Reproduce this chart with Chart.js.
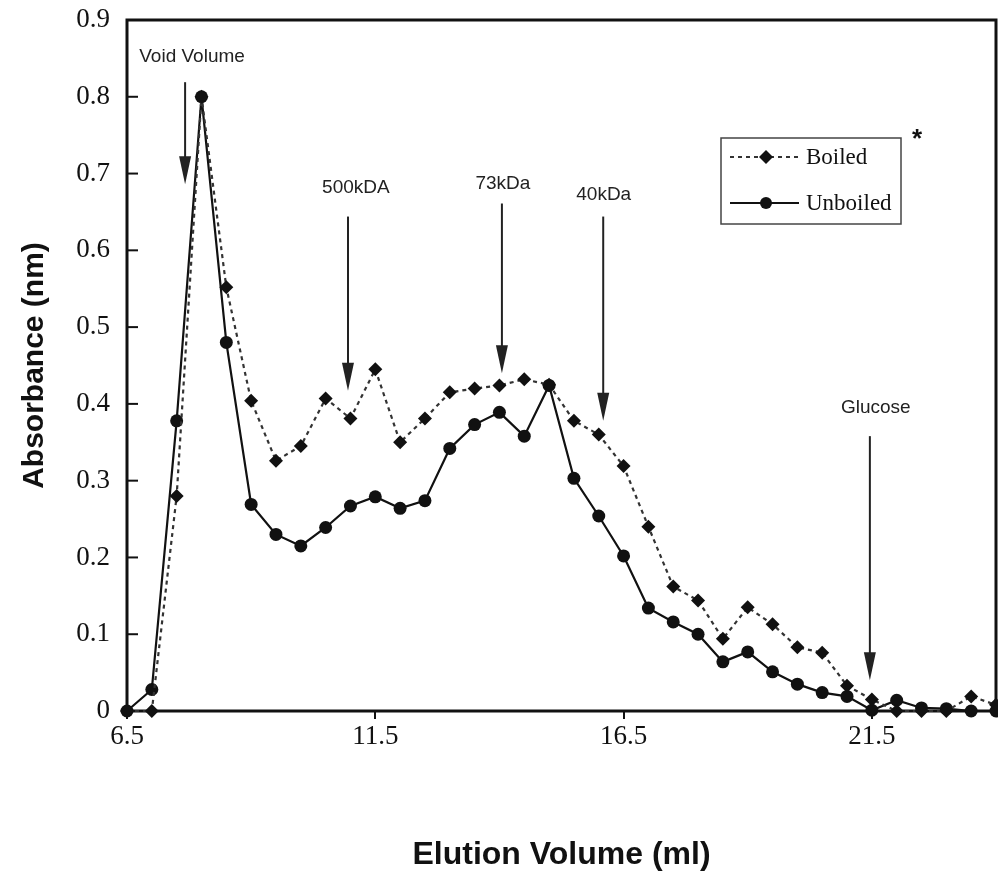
<!DOCTYPE html>
<html><head><meta charset="utf-8">
<script src="https://cdn.jsdelivr.net/npm/chart.js@4.4.0/dist/chart.umd.min.js"></script>
<style>html,body{margin:0;padding:0;background:#fff;overflow:hidden}canvas{display:block}</style>
</head><body><canvas id="c" width="998" height="883"></canvas>
<script>
// ---- data ----
const volumes  = [6.5,7.0,7.5,8.0,8.5,9.0,9.5,10.0,10.5,11.0,11.5,12.0,12.5,13.0,13.5,14.0,14.5,15.0,
                  15.5,16.0,16.5,17.0,17.5,18.0,18.5,19.0,19.5,20.0,20.5,21.0,21.5,22.0,22.5,23.0,23.5,24.0];
const boiled   = [0,0,0.280,0.800,0.552,0.404,0.326,0.345,0.407,0.381,0.445,0.350,0.381,0.415,0.420,0.424,0.432,0.425,
                  0.378,0.360,0.319,0.240,0.162,0.144,0.094,0.135,0.113,0.083,0.076,0.033,0.015,0,0,0,0.019,0.008];
const unboiled = [0,0.028,0.378,0.800,0.480,0.269,0.230,0.215,0.239,0.267,0.279,0.264,0.274,0.342,0.373,0.389,0.358,0.424,
                  0.303,0.254,0.202,0.134,0.116,0.100,0.064,0.077,0.051,0.035,0.024,0.019,0.001,0.014,0.004,0.003,0,0];
const xTickValues = [6.5, 11.5, 16.5, 21.5];
const yTickValues = [0,0.1,0.2,0.3,0.4,0.5,0.6,0.7,0.8,0.9];
const seriesNames = ['Boiled','Unboiled'];
const xTitle = 'Elution Volume (ml)';
const yTitle = 'Absorbance (nm)';
// size-marker arrows: label, arrow x (ml), arrow top / tip (absorbance), label x / y
const markerLabels  = ['Void Volume','500kDA','73kDa','40kDa','Glucose'];
const markerX       = [7.67, 10.95, 14.05, 16.09, 21.46];
const markerTop     = [0.819, 0.644, 0.661, 0.644, 0.358];
const markerTip     = [0.686, 0.417, 0.440, 0.378, 0.040];
const markerLabelX  = [7.81, 11.11, 14.07, 16.10, 21.58];
const markerLabelY  = [0.852, 0.681, 0.687, 0.673, 0.395];

const SERIF = '"Liberation Serif", "Times New Roman", serif';
const SANS  = '"Liberation Sans", Arial, sans-serif';

const framePlugin = {
  id: 'frame',
  beforeDatasetsDraw(chart) {
    const {ctx, chartArea: a, scales: {y}} = chart;
    ctx.save();
    ctx.strokeStyle = '#111';
    ctx.lineWidth = 3;
    ctx.strokeRect(a.left, a.top, a.right - a.left, a.bottom - a.top);
    // inward y ticks
    ctx.lineWidth = 2;
    yTickValues.forEach(v => {
      const py = y.getPixelForValue(v);
      ctx.beginPath(); ctx.moveTo(a.left, py); ctx.lineTo(a.left + 11, py); ctx.stroke();
    });
    ctx.restore();
  },
  afterDraw(chart) {
    const {ctx, chartArea: a, scales: {x, y}} = chart;
    ctx.save();
    // arrows + labels
    ctx.strokeStyle = '#222'; ctx.fillStyle = '#222'; ctx.lineWidth = 2;
    markerLabels.forEach((lab, i) => {
      const px = x.getPixelForValue(markerX[i]);
      const top = y.getPixelForValue(markerTop[i]);
      const tip = y.getPixelForValue(markerTip[i]);
      ctx.beginPath(); ctx.moveTo(px, top); ctx.lineTo(px, tip - 20); ctx.stroke();
      ctx.beginPath(); ctx.moveTo(px - 6, tip - 28); ctx.lineTo(px + 6, tip - 28); ctx.lineTo(px, tip); ctx.closePath(); ctx.fill();
      ctx.font = '19px ' + SANS;
      ctx.textAlign = 'center'; ctx.textBaseline = 'middle';
      ctx.fillText(lab, x.getPixelForValue(markerLabelX[i]), y.getPixelForValue(markerLabelY[i]));
    });
    // legend box
    const lx = a.right - 275, ly = a.top + 118, lw = 180, lh = 86;
    ctx.lineWidth = 1.5; ctx.strokeStyle = '#444';
    ctx.strokeRect(lx, ly, lw, lh);
    const ds = chart.data.datasets;
    const rows = [ly + 19, ly + 65];
    ds.forEach((d, i) => {
      const cy = rows[i];
      ctx.save();
      ctx.strokeStyle = d.borderColor; ctx.lineWidth = 2;
      ctx.setLineDash(d.borderDash || []);
      ctx.beginPath(); ctx.moveTo(lx + 9, cy); ctx.lineTo(lx + 78, cy); ctx.stroke();
      ctx.restore();
      ctx.fillStyle = '#111';
      const mx = lx + 45;
      if (d.pointStyle === 'rectRot') {
        ctx.beginPath(); ctx.moveTo(mx, cy - 7); ctx.lineTo(mx + 7, cy); ctx.lineTo(mx, cy + 7); ctx.lineTo(mx - 7, cy); ctx.closePath(); ctx.fill();
      } else {
        ctx.beginPath(); ctx.arc(mx, cy, 6, 0, Math.PI * 2); ctx.fill();
      }
      ctx.fillStyle = '#111';
      ctx.font = '23px ' + SERIF; ctx.textAlign = 'left'; ctx.textBaseline = 'middle';
      ctx.fillText(d.label, lx + 85, cy + 1);
    });
    // asterisk
    ctx.font = 'bold 26px ' + SANS; ctx.textAlign = 'center'; ctx.textBaseline = 'middle';
    ctx.fillText('*', lx + 196, ly + 2);
    ctx.restore();
  }
};

new Chart(document.getElementById('c'), {
  type: 'line',
  data: {
    datasets: [
      { label: seriesNames[0], data: volumes.map((v, i) => ({x: v, y: boiled[i]})),
        borderColor: '#333', borderWidth: 2.2, borderDash: [4, 4],
        pointStyle: 'rectRot', pointRadius: 7, pointBackgroundColor: '#111', pointBorderColor: '#111', pointBorderWidth: 0,
        tension: 0, clip: 8 },
      { label: seriesNames[1], data: volumes.map((v, i) => ({x: v, y: unboiled[i]})),
        borderColor: '#111', borderWidth: 2.2,
        pointStyle: 'circle', pointRadius: 6.5, pointBackgroundColor: '#111', pointBorderColor: '#111', pointBorderWidth: 0,
        tension: 0, clip: 8 }
    ]
  },
  options: {
    responsive: false, animation: false, devicePixelRatio: 1,
    layout: { autoPadding: false, padding: { top: 20, right: 2, left: 0, bottom: 0 } },
    plugins: { legend: { display: false }, tooltip: { enabled: false } },
    scales: {
      x: {
        type: 'linear', min: 6.5, max: 24,
        afterBuildTicks: s => { s.ticks = xTickValues.map(v => ({ value: v })); },
        afterFit: s => { s.height = 172; s.paddingLeft = 0; s.paddingRight = 0; },
        grid: { drawOnChartArea: false, drawTicks: true, tickLength: 8, color: '#111', lineWidth: 2 },
        border: { display: false },
        ticks: { color: '#111', font: { family: SERIF, size: 27 }, padding: 2, maxRotation: 0,
                 callback: v => String(v) },
        title: { display: true, text: xTitle, color: '#111', font: { family: SANS, size: 32, weight: 'bold' },
                 padding: { top: 0, bottom: 9 } }
      },
      y: {
        min: 0, max: 0.9,
        afterBuildTicks: s => { s.ticks = yTickValues.map(v => ({ value: v })); },
        afterFit: s => { s.width = 127; s.paddingTop = 0; s.paddingBottom = 0; },
        grid: { display: false, drawTicks: false },
        border: { display: false },
        ticks: { color: '#111', font: { family: SERIF, size: 27 }, padding: 17,
                 callback: v => v === 0 ? '0' : v.toFixed(1) },
        title: { display: true, text: yTitle, color: '#111', font: { family: SANS, size: 30, weight: 'bold' },
                 padding: { top: 17, bottom: 0 } }
      }
    }
  },
  plugins: [framePlugin]
});
</script></body></html>
